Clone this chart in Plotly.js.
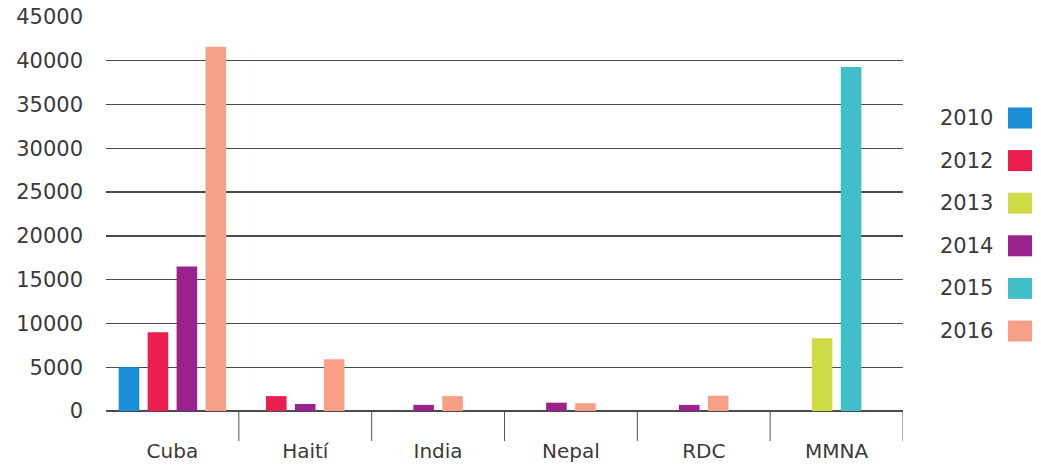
<!DOCTYPE html>
<html>
<head>
<meta charset="utf-8">
<script src="https://cdn.plot.ly/plotly-3.0.1.min.js"></script>
<style>
  html, body { margin: 0; padding: 0; background: #ffffff; }
  #chart { width: 1041px; height: 467px; }
</style>
</head>
<body>
<div id="chart"></div>
<script>
// Categories along the x axis
const categories = ['Cuba', 'Haití', 'India', 'Nepal', 'RDC', 'MMNA'];

// Series (one per year); null = no bar for that category
const years = ['2010', '2012', '2013', '2014', '2015', '2016'];
const v2010 = [5000, null, null, null, null, null];
const v2012 = [9000, 1700, null, null, null, null];
const v2013 = [null, null, null, null, null, 8300];
const v2014 = [16500, 800, 700, 950, 700, null];
const v2015 = [null, null, null, null, null, 39300];
const v2016 = [41600, 5900, 1700, 900, 1750, null];

const seriesValues = [v2010, v2012, v2013, v2014, v2015, v2016];
const colors = ['#1b8ed9', '#ea1f50', '#cfdb45', '#9a228c', '#40bfc9', '#f7a088'];

const FONT = 'DejaVu Sans, sans-serif';
const TXT = '#3a3a3a';

// Bars of a category are packed side by side and centred on it,
// leaving no empty slot for a missing year.
const slot = 0.218;   // distance between neighbouring bars (category units)
const barW = 0.155;   // bar width (category units)

const traces = years.map((yr, s) => {
  const offsets = [];
  const widths = [];
  categories.forEach((c, i) => {
    const present = seriesValues.map(v => v[i]).map((v, k) => (v !== null ? k : -1)).filter(k => k >= 0);
    const n = present.length;
    const j = present.indexOf(s);
    offsets.push(j >= 0 ? (j - n / 2) * slot + (slot - barW) / 2 : 0);
    widths.push(barW);
  });
  return {
    type: 'bar',
    name: yr,
    x: categories,
    y: seriesValues[s],
    offset: offsets,
    width: widths,
    marker: { color: colors[s] },
    showlegend: false,
    hoverinfo: 'x+y+name'
  };
});

// Legend drawn on the right: label first, colour swatch after it
const plotLeft = 106, plotRight = 903, plotTop = 17, plotBottom = 411;
const pw = plotRight - plotLeft, ph = plotBottom - plotTop;
const legTop = 118, legStep = 42.6;
const textRight = 995, swL = 1008, swR = 1032, swH = 21;
const px = x => (x - plotLeft) / pw;
const py = y => (plotBottom - y) / ph;

const annotations = years.map((yr, s) => ({
  xref: 'paper', yref: 'paper',
  x: px(textRight), y: py(legTop + s * legStep),
  xanchor: 'right', yanchor: 'middle',
  text: yr, showarrow: false,
  font: { family: FONT, size: 21, color: TXT }
}));
const shapes = years.map((yr, s) => ({
  type: 'rect', xref: 'paper', yref: 'paper',
  x0: px(swL), x1: px(swR),
  y0: py(legTop + s * legStep + swH / 2), y1: py(legTop + s * legStep - swH / 2),
  fillcolor: colors[s], line: { width: 0 }
}));

// Divider strokes hanging below the baseline, after each category
const dividerLen = 30;
categories.forEach((c, i) => {
  shapes.push({
    type: 'line', xref: 'x', yref: 'paper',
    x0: i + 0.5, x1: i + 0.5,
    y0: 0, y1: -dividerLen / ph,
    line: { color: '#555555', width: 1 }
  });
});

const layout = {
  width: 1041,
  height: 467,
  margin: { l: plotLeft, r: 1041 - plotRight, t: plotTop, b: 467 - plotBottom, pad: 0 },
  paper_bgcolor: '#ffffff',
  plot_bgcolor: '#ffffff',
  barmode: 'overlay',
  showlegend: false,
  font: { family: FONT, size: 21, color: TXT },
  xaxis: {
    type: 'category',
    range: [-0.5, 5.5],
    ticks: '',
    ticklabelstandoff: 26,
    showgrid: false,
    showline: false,
    zeroline: false,
    tickfont: { family: FONT, size: 20, color: TXT },
    fixedrange: true
  },
  yaxis: {
    range: [0, 45000],
    dtick: 5000,
    tick0: 0,
    exponentformat: 'none',
    separatethousands: false,
    tickformat: 'd',
    showgrid: true,
    gridcolor: '#4a4a4a',
    gridwidth: 1.4,
    zeroline: true,
    zerolinecolor: '#4a4a4a',
    zerolinewidth: 1.4,
    showline: false,
    ticks: '',
    ticklabelstandoff: 22,
    tickfont: { family: FONT, size: 21, color: TXT },
    fixedrange: true
  },
  annotations: annotations,
  shapes: shapes
};

Plotly.newPlot('chart', traces, layout, { displayModeBar: false, staticPlot: true });
</script>
</body>
</html>
